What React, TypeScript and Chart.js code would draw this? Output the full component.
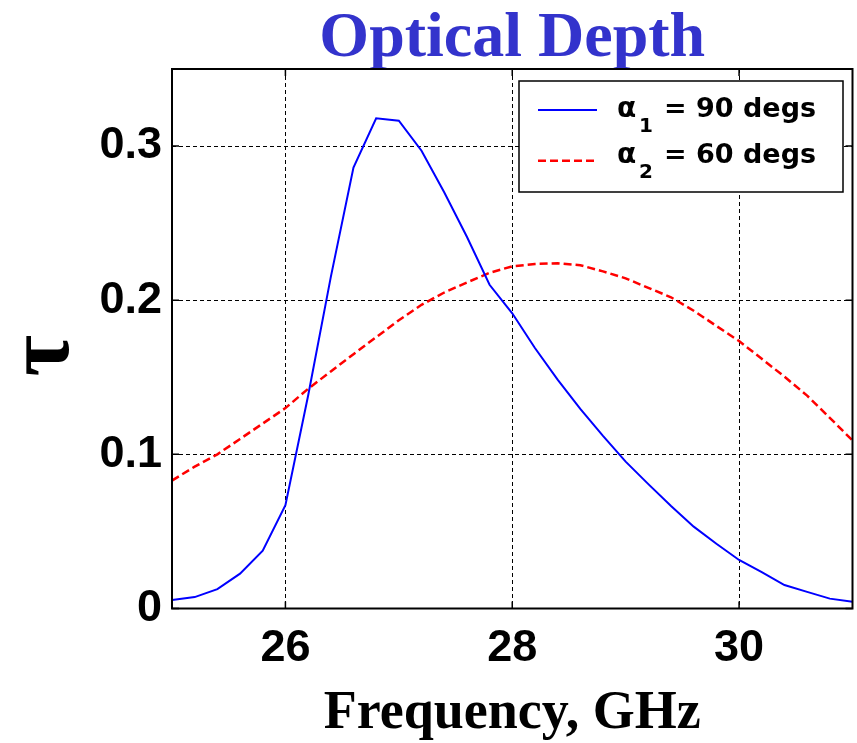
import React, { useEffect, useRef } from "react";
import { Chart, registerables } from "chart.js";

Chart.register(...registerables);

// ---- data ----
const freqGHz = [
  25.0, 25.2, 25.4, 25.6, 25.8, 26.0, 26.2, 26.4, 26.6, 26.8, 27.0,
  27.2, 27.4, 27.6, 27.8, 28.0, 28.2, 28.4, 28.6, 28.8, 29.0,
  29.2, 29.4, 29.6, 29.8, 30.0, 30.2, 30.4, 30.6, 30.8, 31.0,
];
const tauAlpha90 = [
  0.0055, 0.0074, 0.0126, 0.0226, 0.0375, 0.067, 0.138, 0.215, 0.286, 0.318, 0.3165,
  0.297, 0.27, 0.2412, 0.21, 0.1915, 0.169, 0.1485, 0.1295, 0.112, 0.0953,
  0.0807, 0.0665, 0.0531, 0.042, 0.0315, 0.0236, 0.0152, 0.0108, 0.0064, 0.0044,
];
const tauAlpha60 = [
  0.083, 0.092, 0.1, 0.11, 0.12, 0.13, 0.1425, 0.1538, 0.165, 0.176, 0.187,
  0.197, 0.205, 0.2115, 0.2178, 0.222, 0.2235, 0.224, 0.2227, 0.2187, 0.2142,
  0.208, 0.2019, 0.1932, 0.1833, 0.1735, 0.162, 0.1504, 0.1381, 0.1237, 0.109,
];
const xTickValues = [26, 28, 30];
const yTickValues = [0, 0.1, 0.2, 0.3];
const xRange = [25, 31];
const yRange = [0, 0.35];

const chartTitle = "Optical Depth";
const xAxisTitle = "Frequency, GHz";
const yAxisTitle = "τ";
const legendGreek = ["α", "α"];
const legendSub = ["1", "2"];
const legendRest = ["= 90 degs", "= 60 degs"];
const seriesLabels = ["α1 = 90 degs", "α2 = 60 degs"];

const framePlugin = {
  id: "matlabFrame",
  afterDraw(chart: any) {
    const { ctx, chartArea: ca } = chart;
    const xs = chart.scales.x;
    const ys = chart.scales.y;
    ctx.save();
    // frame
    ctx.setLineDash([]);
    ctx.strokeStyle = "#000";
    ctx.lineWidth = 2;
    ctx.strokeRect(ca.left, ca.top, ca.right - ca.left, ca.bottom - ca.top);
    // inward ticks
    ctx.lineWidth = 1.5;
    const tl = 7;
    ctx.beginPath();
    xTickValues.forEach((v) => {
      const px = xs.getPixelForValue(v);
      ctx.moveTo(px, ca.bottom);
      ctx.lineTo(px, ca.bottom - tl);
      ctx.moveTo(px, ca.top);
      ctx.lineTo(px, ca.top + tl);
    });
    yTickValues.forEach((v) => {
      const py = ys.getPixelForValue(v);
      ctx.moveTo(ca.left, py);
      ctx.lineTo(ca.left + tl, py);
      ctx.moveTo(ca.right, py);
      ctx.lineTo(ca.right - tl, py);
    });
    ctx.stroke();

    // y axis title (rotated tau)
    ctx.fillStyle = "#000";
    ctx.font = "bold 90px 'Liberation Serif', serif";
    ctx.translate(68, (ca.top + ca.bottom) / 2 + 17);
    ctx.rotate(-Math.PI / 2);
    ctx.textAlign = "center";
    ctx.textBaseline = "alphabetic";
    ctx.fillText(yAxisTitle, 0, 0);
    ctx.restore();

    // legend
    ctx.save();
    const bl = ca.right - 333.5;
    const bt = ca.top + 12;
    const bw = 324;
    const bh = 111;
    ctx.fillStyle = "#fff";
    ctx.fillRect(bl, bt, bw, bh);
    ctx.strokeStyle = "#000";
    ctx.lineWidth = 1.5;
    ctx.strokeRect(bl, bt, bw, bh);
    const lineY = [29, 79.7];
    const baseY = [35.7, 82.3];
    const subY = [50.7, 97.3];
    chart.data.datasets.forEach((ds: any, i: number) => {
      ctx.strokeStyle = ds.borderColor;
      ctx.lineWidth = ds.borderWidth;
      ctx.setLineDash(ds.borderDash || []);
      ctx.beginPath();
      ctx.moveTo(bl + 19, bt + lineY[i]);
      ctx.lineTo(bl + 78, bt + lineY[i]);
      ctx.stroke();
      ctx.setLineDash([]);
      ctx.fillStyle = "#000";
      ctx.textAlign = "left";
      ctx.textBaseline = "alphabetic";
      ctx.font = "bold 28px 'DejaVu Sans', sans-serif";
      ctx.fillText(legendGreek[i], bl + 98, bt + baseY[i]);
      ctx.font = "bold 27px 'DejaVu Sans', sans-serif";
      ctx.fillText(legendRest[i], bl + 145, bt + baseY[i]);
      ctx.font = "bold 20px 'DejaVu Sans', sans-serif";
      ctx.fillText(legendSub[i], bl + 120, bt + subY[i]);
    });
    ctx.restore();
  },
};

export default function App() {
  const canvasRef = useRef<HTMLCanvasElement | null>(null);

  useEffect(() => {
    const canvas = canvasRef.current;
    if (!canvas) return;
    const tickFont = { family: "'Liberation Sans', Arial, sans-serif", size: 45, weight: "bold" as const, lineHeight: 1.2 };
    const chart = new Chart(canvas, {
      type: "line",
      data: {
        datasets: [
          {
            label: seriesLabels[0],
            data: freqGHz.map((f, i) => ({ x: f, y: tauAlpha90[i] })),
            borderColor: "#0000ff",
            borderWidth: 2,
            pointRadius: 0,
            tension: 0,
            fill: false,
          },
          {
            label: seriesLabels[1],
            data: freqGHz.map((f, i) => ({ x: f, y: tauAlpha60[i] })),
            borderColor: "#ff0000",
            borderWidth: 2.5,
            borderDash: [8, 4],
            pointRadius: 0,
            tension: 0,
            fill: false,
          },
        ],
      },
      options: {
        animation: false,
        responsive: false,
        devicePixelRatio: 1,
        layout: { padding: { left: 0, right: 4.5, top: 0, bottom: 0 } },
        plugins: {
          legend: { display: false },
          tooltip: { enabled: false },
          title: {
            display: true,
            text: chartTitle,
            fullSize: false,
            color: "#3333cc",
            font: { family: "'Liberation Serif', 'Times New Roman', serif", size: 64, weight: "bold", lineHeight: 0.85 },
            padding: { top: 11.8, bottom: 2.8 },
          },
        },
        scales: {
          x: {
            type: "linear",
            min: xRange[0],
            max: xRange[1],
            afterBuildTicks: (scale: any) => {
              scale.ticks = xTickValues.map((v) => ({ value: v }));
            },
            afterFit: (scale: any) => {
              scale.height = 134.5;
            },
            ticks: {
              font: tickFont,
              color: "#000",
              padding: 13,
              maxRotation: 0,
              autoSkip: false,
              callback: (v: any) => String(v),
            },
            grid: { color: "#000", lineWidth: 1, drawTicks: false, borderDash: [4, 3] } as any,
            border: { display: false, dash: [4, 3] },
            title: {
              display: true,
              text: xAxisTitle,
              color: "#000",
              font: { family: "'Liberation Serif', 'Times New Roman', serif", size: 54, weight: "bold", lineHeight: 1 },
              padding: { top: 0, bottom: 2 },
            },
          },
          y: {
            type: "linear",
            min: yRange[0],
            max: yRange[1],
            afterBuildTicks: (scale: any) => {
              scale.ticks = yTickValues.map((v) => ({ value: v }));
            },
            afterFit: (scale: any) => {
              scale.width = 172;
            },
            ticks: {
              font: tickFont,
              color: "#000",
              padding: 10,
              autoSkip: false,
              callback: (v: any) => String(v),
            },
            grid: { color: "#000", lineWidth: 1, drawTicks: false, borderDash: [4, 3] } as any,
            border: { display: false, dash: [4, 3] },
          },
        },
      },
      plugins: [framePlugin],
    });
    return () => chart.destroy();
  }, []);

  return (
    <div style={{ position: "absolute", left: 0, top: 0, width: 857, height: 743, background: "#fff" }}>
      <canvas ref={canvasRef} width={857} height={743} style={{ display: "block", width: 857, height: 743 }} />
    </div>
  );
}
